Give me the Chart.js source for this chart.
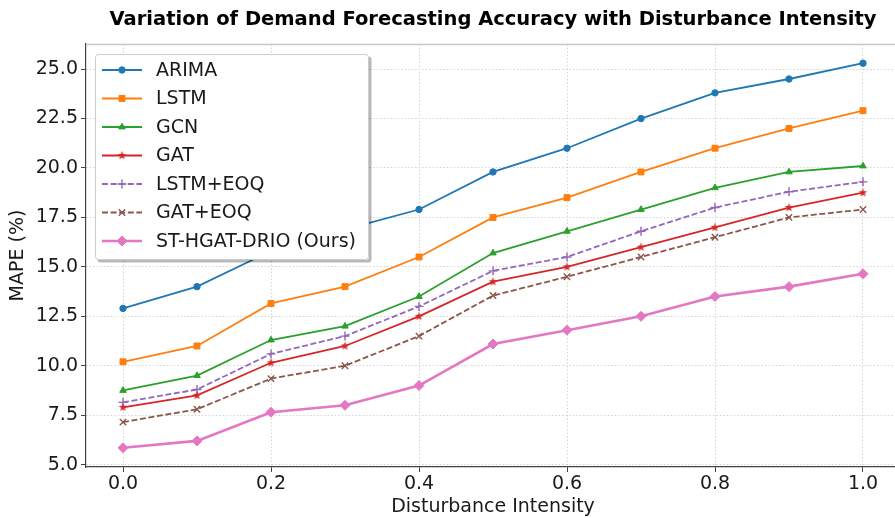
<!DOCTYPE html>
<html><head><meta charset="utf-8">
<script src="https://cdn.jsdelivr.net/npm/chart.js@4.4.0/dist/chart.umd.min.js"></script>
<style>
html,body{margin:0;padding:0;background:#fff;overflow:hidden;width:895px;height:518px}
#wrap{position:absolute;left:0;top:0;width:910px;height:518px}
</style>
</head><body><div id="wrap"><canvas id="c" width="910" height="518"></canvas></div>
<script>
const intensity = [0.0, 0.1, 0.2, 0.3, 0.4, 0.5, 0.6, 0.7, 0.8, 0.9, 1.0];
const arima    = [12.9, 14.0, 15.8, 16.9, 17.9, 19.8, 21.0, 22.5, 23.8, 24.5, 25.3];
const lstm     = [10.2, 11.0, 13.15, 14.0, 15.5, 17.5, 18.5, 19.8, 21.0, 22.0, 22.9];
const gcn      = [8.75, 9.5, 11.3, 12.0, 13.5, 15.7, 16.8, 17.9, 19.0, 19.8, 20.1];
const gat      = [7.9, 8.5, 10.15, 11.0, 12.5, 14.25, 15.0, 16.0, 17.0, 18.0, 18.75];
const lstmEoq  = [8.15, 8.8, 10.6, 11.5, 13.0, 14.8, 15.5, 16.8, 18.0, 18.8, 19.3];
const gatEoq   = [7.15, 7.8, 9.35, 10.0, 11.5, 13.55, 14.5, 15.5, 16.5, 17.5, 17.9];
const ours     = [5.85, 6.2, 7.65, 8.0, 9.0, 11.1, 11.8, 12.5, 13.5, 14.0, 14.65];
const seriesNames = ['ARIMA', 'LSTM', 'GCN', 'GAT', 'LSTM+EOQ', 'GAT+EOQ', 'ST-HGAT-DRIO (Ours)'];
const xTicks = [0.0, 0.2, 0.4, 0.6, 0.8, 1.0];
const yTicks = [5.0, 7.5, 10.0, 12.5, 15.0, 17.5, 20.0, 22.5, 25.0];
const titleText = 'Variation of Demand Forecasting Accuracy with Disturbance Intensity';
const xTitle = 'Disturbance Intensity';
const yTitle = 'MAPE (%)';

const FONT = 'DejaVu Sans';
const TXT = '#1a1a1a';
const FS = 19;

function starCanvas(color, r) {
  const s = Math.ceil(2 * r + 2);
  const c = document.createElement('canvas');
  c.width = s; c.height = s;
  const g = c.getContext('2d');
  g.fillStyle = color;
  g.beginPath();
  for (let i = 0; i < 10; i++) {
    const a = -Math.PI / 2 + i * Math.PI / 5;
    const rr = (i % 2) ? r * 0.42 : r;
    g.lineTo(s / 2 + rr * Math.cos(a), s / 2 + rr * Math.sin(a));
  }
  g.closePath();
  g.fill();
  return c;
}

const styles = [
  {color: '#1f77b4', pointStyle: 'circle', radius: 3.2, width: 1.8, dash: []},
  {color: '#ff7f0e', pointStyle: 'rect', radius: 4.2, width: 1.8, dash: []},
  {color: '#2ca02c', pointStyle: 'triangle', radius: 3.8, width: 1.8, dash: []},
  {color: '#d62728', pointStyle: starCanvas('#d62728', 4.5), radius: 4.5, width: 1.8, dash: []},
  {color: '#9467bd', pointStyle: 'cross', radius: 4.5, width: 1.8, dash: [6, 2.6]},
  {color: '#8c564b', pointStyle: 'crossRot', radius: 4.5, width: 1.8, dash: [6, 2.6]},
  {color: '#e377c2', pointStyle: 'rectRot', radius: 5, width: 2.6, dash: []}
];
const allSeries = [arima, lstm, gcn, gat, lstmEoq, gatEoq, ours];

const datasets = allSeries.map((arr, k) => ({
  label: seriesNames[k],
  data: intensity.map((x, i) => ({x: x, y: arr[i]})),
  borderColor: styles[k].color,
  backgroundColor: styles[k].color,
  borderWidth: styles[k].width,
  borderDash: styles[k].dash,
  pointStyle: styles[k].pointStyle,
  pointRadius: styles[k].radius,
  pointHoverRadius: styles[k].radius,
  pointBackgroundColor: styles[k].color,
  pointBorderColor: styles[k].color,
  pointBorderWidth: (k === 4 || k === 5) ? 1.4 : 1,
  tension: 0,
  fill: false
}));

const decor = {
  id: 'decor',
  beforeDatasetsDraw(chart) {
    const ctx = chart.ctx, a = chart.chartArea;
    ctx.save();
    ctx.strokeStyle = '#c8c8c8';
    ctx.lineWidth = 1.5;
    ctx.beginPath();
    ctx.moveTo(a.left, a.top + 0.5);
    ctx.lineTo(chart.width, a.top + 0.5);
    ctx.stroke();
    ctx.restore();
  },
  afterDraw(chart) {
    const ctx = chart.ctx, a = chart.chartArea;
    ctx.save();
    ctx.font = 'bold 19.5px "' + FONT + '"';
    ctx.fillStyle = '#000';
    ctx.textAlign = 'center';
    ctx.textBaseline = 'middle';
    ctx.fillText(titleText, (a.left + a.right) / 2, 20);

    const bx = 95, by = 54, bw = 274, bh = 206;
    ctx.fillStyle = 'rgba(0,0,0,0.28)';
    roundRect(ctx, bx + 2.5, by + 2.5, bw, bh, 3); ctx.fill();
    ctx.fillStyle = '#ffffff';
    roundRect(ctx, bx, by, bw, bh, 3); ctx.fill();
    ctx.strokeStyle = '#cccccc'; ctx.lineWidth = 1;
    roundRect(ctx, bx + 0.5, by + 0.5, bw - 1, bh - 1, 3); ctx.stroke();

    chart.data.datasets.forEach((ds, k) => {
      const y = 70 + k * 28.5;
      ctx.strokeStyle = ds.borderColor;
      ctx.lineWidth = ds.borderWidth;
      ctx.setLineDash(ds.borderDash || []);
      ctx.beginPath(); ctx.moveTo(102, y); ctx.lineTo(142, y); ctx.stroke();
      ctx.setLineDash([]);
      ctx.fillStyle = ds.pointBackgroundColor;
      ctx.strokeStyle = ds.pointBorderColor;
      ctx.lineWidth = ds.pointBorderWidth;
      Chart.helpers.drawPoint(ctx, {pointStyle: ds.pointStyle, radius: ds.pointRadius, rotation: 0, borderWidth: ds.pointBorderWidth}, 122, y);
      ctx.fillStyle = TXT;
      ctx.font = FS + 'px "' + FONT + '"';
      ctx.textAlign = 'left';
      ctx.textBaseline = 'middle';
      ctx.fillText(ds.label, 156, y + 1);
    });
    ctx.restore();
  }
};
function roundRect(ctx, x, y, w, h, r) {
  ctx.beginPath();
  ctx.moveTo(x + r, y);
  ctx.lineTo(x + w - r, y); ctx.quadraticCurveTo(x + w, y, x + w, y + r);
  ctx.lineTo(x + w, y + h - r); ctx.quadraticCurveTo(x + w, y + h, x + w - r, y + h);
  ctx.lineTo(x + r, y + h); ctx.quadraticCurveTo(x, y + h, x, y + h - r);
  ctx.lineTo(x, y + r); ctx.quadraticCurveTo(x, y, x + r, y);
  ctx.closePath();
}

new Chart(document.getElementById('c'), {
  type: 'line',
  data: {datasets: datasets},
  plugins: [decor],
  options: {
    responsive: false,
    animation: false,
    devicePixelRatio: 1,
    layout: {padding: {left: 0, right: 10, top: 44, bottom: 0}},
    plugins: {legend: {display: false}, title: {display: false}, tooltip: {enabled: false}},
    scales: {
      x: {
        type: 'linear', min: -0.05, max: 1.05,
        afterBuildTicks: s => { s.ticks = xTicks.map(v => ({value: v})); },
        afterFit: s => { s.height = 51; },
        ticks: {callback: v => Number(v).toFixed(1), font: {family: FONT, size: FS}, color: TXT, padding: 1, maxRotation: 0, autoSkip: false},
        grid: {color: '#d4d4d4', lineWidth: 1, tickLength: 5, tickColor: '#444', drawTicks: true},
        border: {display: true, color: '#444', width: 1.2, dash: [1.5, 2]},
        title: {display: true, text: xTitle, font: {family: FONT, size: FS}, color: TXT, padding: {top: 0, bottom: 0}}
      },
      y: {
        type: 'linear', min: 4.88, max: 26.27,
        afterBuildTicks: s => { s.ticks = yTicks.map(v => ({value: v})); },
        afterFit: s => { s.width = 86; },
        ticks: {callback: v => Number(v).toFixed(1), font: {family: FONT, size: FS}, color: TXT, padding: 3},
        grid: {color: '#d4d4d4', lineWidth: 1, tickLength: 5, tickColor: '#444', drawTicks: true},
        border: {display: true, color: '#444', width: 1.2, dash: [1.5, 2]},
        title: {display: true, text: yTitle, font: {family: FONT, size: FS}, color: TXT, padding: {top: 7, bottom: 0}}
      }
    }
  }
});
</script>
</body></html>
